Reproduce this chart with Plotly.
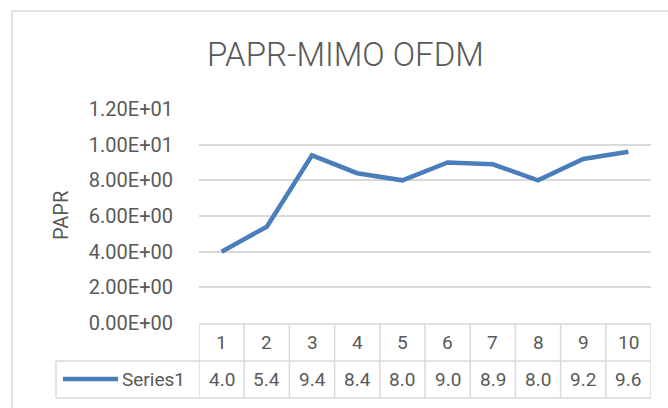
import plotly.graph_objects as go

# ---- data ----
categories = [1, 2, 3, 4, 5, 6, 7, 8, 9, 10]
series1 = [4.0, 5.4, 9.4, 8.4, 8.0, 9.0, 8.9, 8.0, 9.2, 9.6]
series_name = "Series1"
y_ticks = [0, 2, 4, 6, 8, 10, 12]
title_text = "PAPR-MIMO OFDM"
y_title = "PAPR"

W, H = 668, 408
LINE_COLOR = "#4a7ebb"
GRID = "#d9d9d9"
TEXT = "#595959"
FONT = "Roboto"


def px(x):
    return x / W


def py(y):
    return 1 - y / H


# plot-area pixel geometry
X0, X1 = 199, 651
Y_TOP, Y_ZERO = 109, 323
TBL_TOP, TBL_MID, TBL_BOT = 324, 361, 398
LEG_LEFT = 56

fig = go.Figure()
fig.add_trace(go.Scatter(
    x=categories, y=series1, mode="lines", name=series_name,
    line=dict(color=LINE_COLOR, width=4.5, shape="linear"),
    showlegend=False, hoverinfo="x+y",
))

shapes = []
# outer chart border (left and top)
shapes.append(dict(type="line", xref="paper", yref="paper",
                   x0=px(12), x1=px(12), y0=py(11), y1=py(420),
                   line=dict(color=GRID, width=1.5)))
shapes.append(dict(type="line", xref="paper", yref="paper",
                   x0=px(12), x1=px(680), y0=py(11), y1=py(11),
                   line=dict(color=GRID, width=1.5)))
# data table horizontal lines
shapes.append(dict(type="line", xref="paper", yref="paper",
                   x0=px(X0), x1=px(X1), y0=py(TBL_TOP), y1=py(TBL_TOP),
                   line=dict(color=GRID, width=1.5)))
for yy in (TBL_MID, TBL_BOT):
    shapes.append(dict(type="line", xref="paper", yref="paper",
                       x0=px(LEG_LEFT), x1=px(X1), y0=py(yy), y1=py(yy),
                       line=dict(color=GRID, width=1.5)))
# legend cell left edge
shapes.append(dict(type="line", xref="paper", yref="paper",
                   x0=px(LEG_LEFT), x1=px(LEG_LEFT), y0=py(TBL_MID), y1=py(TBL_BOT),
                   line=dict(color=GRID, width=1.5)))
# column separators (category boundaries)
bounds = [c - 0.5 for c in categories] + [categories[-1] + 0.5]
for b in bounds:
    shapes.append(dict(type="line", xref="x", yref="paper",
                       x0=b, x1=b, y0=py(TBL_TOP), y1=py(TBL_BOT),
                       line=dict(color=GRID, width=1.5)))
# legend key line sample
shapes.append(dict(type="line", xref="paper", yref="paper",
                   x0=px(63), x1=px(118), y0=py(379), y1=py(379),
                   line=dict(color=LINE_COLOR, width=4.5)))

annotations = []
annotations.append(dict(text=title_text, xref="paper", yref="paper",
                        x=px(345.5), y=py(55), xanchor="center", yanchor="middle",
                        showarrow=False,
                        font=dict(family=FONT, size=33, color=TEXT, weight=300)))
annotations.append(dict(text=y_title, xref="paper", yref="paper",
                        x=px(61), y=py(216), xanchor="center", yanchor="middle",
                        textangle=-90, showarrow=False,
                        font=dict(family=FONT, size=20, color=TEXT)))
for c, v in zip(categories, series1):
    annotations.append(dict(text=str(c), xref="x", yref="paper",
                            x=c, y=py(342.5), xanchor="center", yanchor="middle",
                            showarrow=False, font=dict(family=FONT, size=19, color=TEXT)))
    annotations.append(dict(text=f"{v:.1f}", xref="x", yref="paper",
                            x=c, y=py(379.5), xanchor="center", yanchor="middle",
                            showarrow=False, font=dict(family=FONT, size=19, color=TEXT)))
annotations.append(dict(text=series_name, xref="paper", yref="paper",
                        x=px(120), y=py(379.5), xanchor="left", yanchor="middle",
                        showarrow=False, font=dict(family=FONT, size=19, color=TEXT)))

fig.update_layout(
    width=W, height=H,
    margin=dict(l=0, r=0, t=0, b=0),
    paper_bgcolor="white", plot_bgcolor="white",
    showlegend=False,
    shapes=shapes, annotations=annotations,
    xaxis=dict(domain=[px(X0), px(X1)], range=[0.5, 10.5],
               showticklabels=False, showgrid=False, zeroline=False,
               showline=False, ticks=""),
    yaxis=dict(domain=[py(Y_ZERO), py(Y_TOP)], range=[0, 12],
               tickvals=y_ticks, ticktext=[f"{v:.2E}" for v in y_ticks],
               showgrid=True, gridcolor=GRID, gridwidth=1.5,
               zeroline=False, showline=False, automargin=False,
               ticks="outside", ticklen=21, tickcolor="rgba(0,0,0,0)",
               tickfont=dict(family=FONT, size=20, color=TEXT)),
)

fig.write_html(
    "out.html",
    config={"displayModeBar": False},
    post_script="document.body.style.margin='0';document.body.style.overflow='hidden';",
)
